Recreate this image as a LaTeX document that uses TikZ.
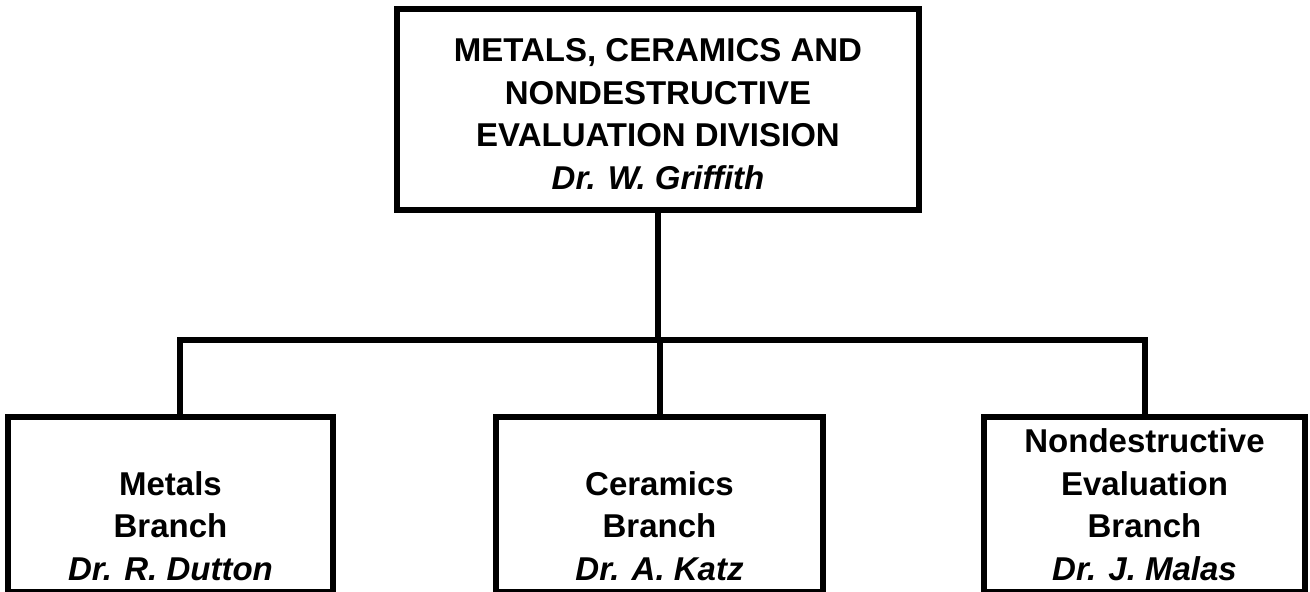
\documentclass[tikz,border=0pt]{standalone}
\usepackage{fontspec}
\setmainfont{Liberation Sans}
\usetikzlibrary{positioning}

\begin{document}
\begin{tikzpicture}[x=1pt, y=-1pt,
    box/.style={draw, line width=6pt, rectangle, minimum width=325pt, minimum height=175pt, inner sep=0pt},
    title/.style={font=\fontsize{33}{42.5}\selectfont\bfseries, align=center, inner sep=0pt},
    link/.style={line width=6pt}]
    % Page size
    \useasboundingbox (0,0) rectangle (1310,592);

    % Draw the division box
    \node[box, minimum width=522pt, minimum height=201pt] (division) at (658,109.5) {};
    \node[title, above=23pt of division.south] (divisiontext)
        {METALS, CERAMICS AND\\ NONDESTRUCTIVE\\ EVALUATION DIVISION\\ \textit{Dr. W. Griffith}};

    % Draw the branch boxes
    \node[box] (metals) at (170.5,504.5) {};
    \node[box, minimum width=327pt] (ceramics) at (659.5,504.5) {};
    \node[box, minimum width=321pt] (nde) at (1144.5,504.5) {};

    % Labels for the branches
    \node[title, above=14pt of metals.south] (metalstext) {Metals\\ Branch\\ \textit{Dr. R. Dutton}};
    \node[title, above=14pt of ceramics.south] (ceramicstext) {Ceramics\\ Branch\\ \textit{Dr. A. Katz}};
    \node[title, above=14pt of nde.south] (ndetext) {Nondestructive\\ Evaluation\\ Branch\\ \textit{Dr. J. Malas}};

    % Draw the connecting lines
    \coordinate (busL) at (180,340);
    \coordinate (busR) at (1145,340);
    \draw[link] (division.south) -- (division.south |- busL);
    \draw[link] (busL |- metals.north) -- (busL) -- (busR) -- (busR |- nde.north);
    \draw[link] (ceramics.north) -- (ceramics.north |- busL);
\end{tikzpicture}
\end{document}
